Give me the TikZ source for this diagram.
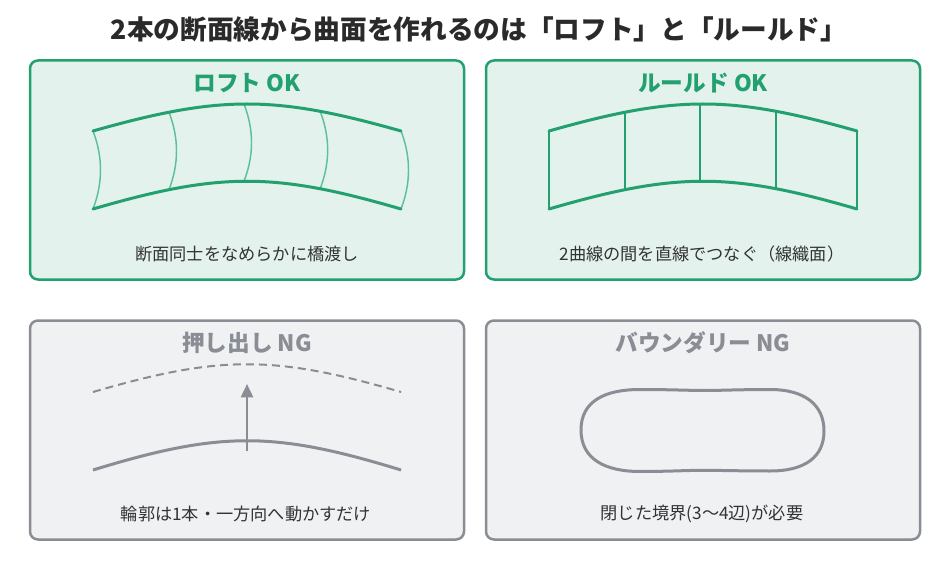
\documentclass[tikz,border=0pt]{standalone}
\usepackage{fontspec}
\setmainfont{Noto Sans CJK JP}
\usetikzlibrary{arrows.meta,calc}
\definecolor{grn}{HTML}{22A06F}
\definecolor{grnfill}{HTML}{E3F2EC}
\definecolor{grnlight}{HTML}{5CC09B}
\definecolor{gry}{HTML}{8B8D95}
\definecolor{gryfill}{HTML}{F0F1F3}
\definecolor{txt}{HTML}{333333}
\definecolor{ttl}{HTML}{2A2A2A}
\tikzset{
  panelbase/.style={draw, rectangle, rounded corners=6pt, line width=1.875pt,
    minimum width=325.5pt, minimum height=164.25pt, inner sep=0pt},
  panelok/.style={panelbase, draw=grn, fill=grnfill},
  panelng/.style={panelbase, draw=gry, fill=gryfill},
  headok/.style={font=\fontsize{17}{20}\selectfont\bfseries, text=grn, inner sep=0pt},
  headng/.style={font=\fontsize{17}{20}\selectfont\bfseries, text=gry, inner sep=0pt},
  bodytxt/.style={font=\fontsize{12.9}{15}\selectfont, text=txt, inner sep=0pt},
  maintitle/.style={font=\fontsize{20}{24}\selectfont\bfseries, text=ttl, inner sep=0pt},
  railok/.style={draw=grn, line width=2.25pt, line cap=round},
  loftsec/.style={draw=grnlight, line width=1.1pt},
  rulesec/.style={draw=grn, line width=1.5pt},
  ngline/.style={draw=gry, line width=2.25pt},
  ngdash/.style={draw=gry, line width=1.5pt, dash pattern=on 6pt off 3.75pt},
  ngarrow/.style={draw=gry, line width=1.9pt, -{Triangle[length=10pt,width=9pt]}},
}
\begin{document}
\begin{tikzpicture}[x=0.75pt,y=-0.75pt]
\useasboundingbox (0,0) rectangle (950,574);

% title
\node[maintitle] (title) at (479,29) {2本の断面線から曲面を作れるのは「ロフト」と「ルールド」};

% panels
\node[panelok] (p1) at (247,170) {};
\node[panelok] (p2) at (703,170) {};
\node[panelng] (p3) at (247,430) {};
\node[panelng] (p4) at (703,430) {};

% headings
\node[headok] (h1) at (247,83) {ロフト OK};
\node[headok] (h2) at (703,83) {ルールド OK};
\node[headng] (h3) at (247,343) {押し出し NG};
\node[headng] (h4) at (703,343) {バウンダリー NG};

% captions
\node[bodytxt] (c1) at (247,254) {断面同士をなめらかに橋渡し};
\node[bodytxt] (c2) at (702,254) {2曲線の間を直線でつなぐ（線織面）};
\node[bodytxt] (c3) at (246,514) {輪郭は1本・一方向へ動かすだけ};
\node[bodytxt] (c4) at (702,514) {閉じた境界(3〜4辺)が必要};

% ---- loft
\path (93,131) coordinate (LT0) .. controls (220,95) and (274,95) .. (401,131)
  coordinate[pos=0.224] (LT1) coordinate[pos=0.489] (LT2) coordinate[pos=0.76] (LT3) coordinate (LT4);
\path (93,209) coordinate (LB0) .. controls (220,172) and (274,172) .. (401,209)
  coordinate[pos=0.224] (LB1) coordinate[pos=0.489] (LB2) coordinate[pos=0.76] (LB3) coordinate (LB4);
\foreach \i in {0,...,4}{
  \draw[loftsec] (LT\i) .. controls +(10,26) and +(10,-26) .. (LB\i);
}
\draw[railok] (LT0) .. controls (220,95) and (274,95) .. (LT4);
\draw[railok] (LB0) .. controls (220,172) and (274,172) .. (LB4);

% ---- ruled
\path (549,131) coordinate (RT0) .. controls (676,95) and (730,95) .. (857,131)
  coordinate[pos=0.224] (RT1) coordinate[pos=0.489] (RT2) coordinate[pos=0.76] (RT3) coordinate (RT4);
\path (549,209) coordinate (RB0) .. controls (676,172) and (730,172) .. (857,209)
  coordinate[pos=0.224] (RB1) coordinate[pos=0.489] (RB2) coordinate[pos=0.76] (RB3) coordinate (RB4);
\foreach \i in {0,...,4}{
  \draw[rulesec] (RT\i) -- (RB\i);
}
\draw[railok] (RT0) .. controls (676,95) and (730,95) .. (RT4);
\draw[railok] (RB0) .. controls (676,172) and (730,172) .. (RB4);

% ---- extrusion
\coordinate (ED0) at (93,392);
\coordinate (ED1) at (401,392);
\draw[ngdash] (ED0) .. controls (220,355) and (274,355) .. (ED1);
\coordinate (ES0) at (93,470);
\coordinate (ES1) at (401,470);
\draw[ngline] (ES0) .. controls (220,431) and (274,431) .. (ES1);
\coordinate (AS) at (247,451);
\coordinate (AE) at (247,384);
\draw[ngarrow] (AS) -- (AE);

% ---- boundary
\draw[ngline] (581,430) .. controls (581,401) and (605,389.5) .. (640,389.5)
  .. controls (670,389.5) and (690,390.5) .. (705,390.5)
  .. controls (720,390.5) and (740,389.5) .. (770,389.5)
  .. controls (805,389.5) and (824,405) .. (824,431)
  .. controls (824,457) and (805,471) .. (770,471)
  .. controls (740,471) and (720,470.3) .. (703,470.3)
  .. controls (686,470.3) and (670,471.5) .. (640,471.5)
  .. controls (605,471.5) and (581,459) .. cycle;
\end{tikzpicture}
\end{document}
